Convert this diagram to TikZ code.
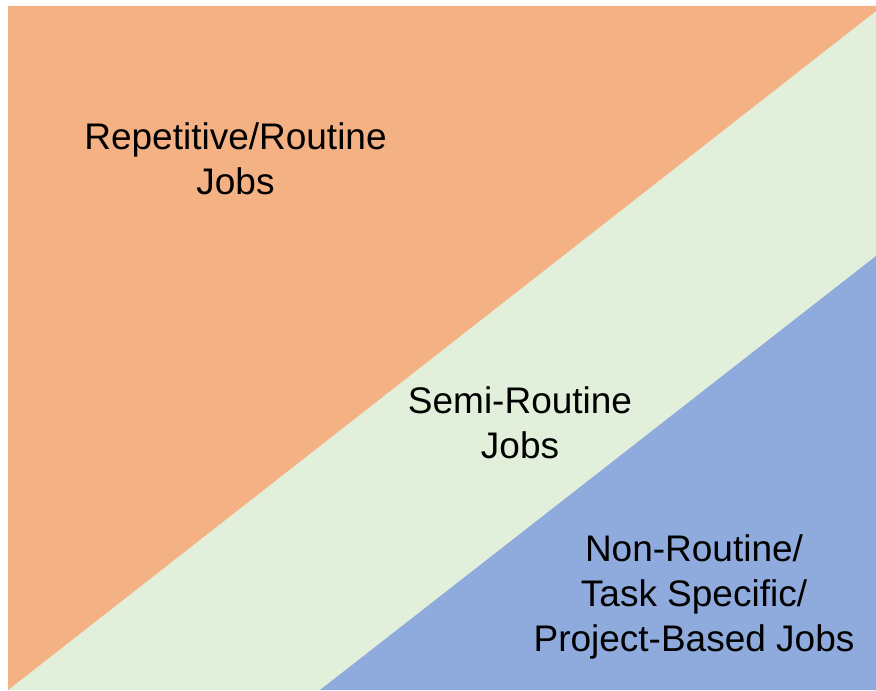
\documentclass[tikz,border=0pt]{standalone}
\usepackage{fontspec}
\setmainfont{Liberation Sans}
\usetikzlibrary{positioning}

\definecolor{routinefill}{HTML}{F4B183}
\definecolor{semifill}{HTML}{E2EFDA}
\definecolor{projectfill}{HTML}{8FAADC}

\begin{document}
\begin{tikzpicture}[x=0.5pt, y=-0.5pt,
  jobtext/.style={align=center, inner sep=0pt, font=\fontsize{18.5}{22.5}\selectfont}]

 \useasboundingbox (0,0) rectangle (876,690);

 %middle band
 \fill[semifill] (8,6) rectangle (876,690);
 %upper triangle
 \fill[routinefill] (8,6) -- (876,6) -- (876,11) -- (8,690) -- cycle;
 %lower triangle
 \fill[projectfill] (320,690) -- (876,256) -- (876,690) -- cycle;

 %labels
 \node[jobtext] (routine) at (235.5,158.5) {Repetitive/Routine\\Jobs};
 \node[jobtext] (semi) at (520,422.5) {Semi-Routine\\Jobs};
 \node[jobtext] (project) at (694,597) {Non-Routine/\\Task Specific/\\Project-Based Jobs};

\end{tikzpicture}
\end{document}
